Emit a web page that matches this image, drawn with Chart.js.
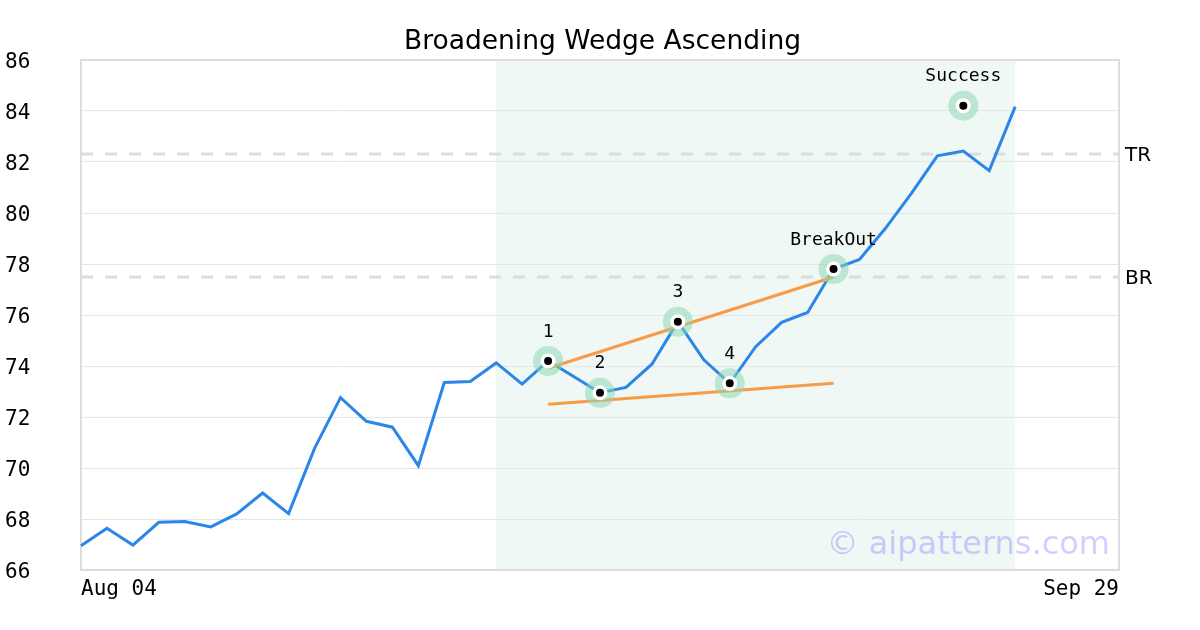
<!DOCTYPE html>
<html>
<head>
<meta charset="utf-8">
<script src="https://cdn.jsdelivr.net/npm/chart.js@4.4.1/dist/chart.umd.min.js"></script>
<style>
    html, body { margin: 0; padding: 0; background: #ffffff; }
    #wrap { width: 1200px; height: 630px; }
</style>
</head>
<body>
<div id="wrap"><canvas id="pattern-chart"></canvas></div>
<script>
const dates = [
    'Aug 04', 'Aug 05', 'Aug 06', 'Aug 07', 'Aug 08',
    'Aug 11', 'Aug 12', 'Aug 13', 'Aug 14', 'Aug 15',
    'Aug 18', 'Aug 19', 'Aug 20', 'Aug 21', 'Aug 22',
    'Aug 25', 'Aug 26', 'Aug 27', 'Aug 28', 'Aug 29',
    'Sep 01', 'Sep 02', 'Sep 03', 'Sep 04', 'Sep 05',
    'Sep 08', 'Sep 09', 'Sep 10', 'Sep 11', 'Sep 12',
    'Sep 15', 'Sep 16', 'Sep 17', 'Sep 18', 'Sep 19',
    'Sep 22', 'Sep 23', 'Sep 24', 'Sep 25', 'Sep 26',
    'Sep 29',
];

const prices = [
    66.95, 67.64, 66.98, 67.87, 67.90, 67.69, 68.20, 69.02, 68.21, 70.77,
    72.76, 71.83, 71.60, 70.09, 73.35, 73.39, 74.12, 73.29, 74.20, 73.58,
    72.95, 73.16, 74.07, 75.74, 74.24, 73.32, 74.76, 75.71, 76.10, 77.80,
    78.18, 79.40, 80.77, 82.24, 82.43, 81.66, 84.17,
];

// pattern points
const markerNames = ['1', '2', '3', '4', 'BreakOut', 'Success'];
const markerDates = ['Aug 28', 'Sep 01', 'Sep 04', 'Sep 08', 'Sep 12', 'Sep 19'];
const markerValues = [74.20, 72.95, 75.74, 73.32, 77.80, 84.21];

// wedge lines
const upperLineDates = ['Aug 28', 'Sep 12'];
const upperLineValues = [73.91, 77.49];
const lowerLineDates = ['Aug 28', 'Sep 12'];
const lowerLineValues = [72.50, 73.32];

// resistance levels
const levelNames = ['TR', 'BR'];
const levelValues = [82.31, 77.49];

const patternStart = 'Aug 26';
const patternEnd = 'Sep 23';

const yTicks = [66, 68, 70, 72, 74, 76, 78, 80, 82, 84, 86];

const toPoints = (xs, ys) => xs.map((x, i) => ({ x, y: ys[i] }));

const decorations = {
    id: 'decorations',
    beforeDraw(chart) {
        const { ctx, chartArea, scales } = chart;
        const x0 = scales.x.getPixelForValue(dates.indexOf(patternStart));
        const x1 = scales.x.getPixelForValue(dates.indexOf(patternEnd));
        ctx.save();
        ctx.fillStyle = '#eff8f4';
        ctx.fillRect(x0, chartArea.top, x1 - x0, chartArea.bottom - chartArea.top);
        ctx.restore();
    },
    beforeDatasetsDraw(chart) {
        const { ctx, chartArea, scales } = chart;
        ctx.save();
        ctx.strokeStyle = '#dddddd';
        ctx.lineWidth = 3;
        ctx.setLineDash([12, 12]);
        levelValues.forEach((v, i) => {
            const y = scales.y.getPixelForValue(v);
            ctx.beginPath();
            ctx.moveTo(chartArea.left, y);
            ctx.lineTo(chartArea.right, y);
            ctx.stroke();
            ctx.fillStyle = '#000000';
            ctx.font = '20px "DejaVu Sans"';
            ctx.textAlign = 'left';
            ctx.textBaseline = 'middle';
            ctx.fillText(levelNames[i], chartArea.right + 6, y + 2);
        });
        ctx.setLineDash([]);
        ctx.lineWidth = 2;
        ctx.strokeStyle = '#dddddd';
        ctx.strokeRect(chartArea.left, chartArea.top, chartArea.right - chartArea.left, chartArea.bottom - chartArea.top);

        ctx.fillStyle = 'rgba(100, 100, 255, 0.3)';
        ctx.font = '32px "DejaVu Sans"';
        ctx.textAlign = 'right';
        ctx.textBaseline = 'middle';
        ctx.fillText('\u00a9 aipatterns.com', chartArea.right - 9, chartArea.bottom - 24);
        ctx.restore();
    },
    afterDatasetsDraw(chart) {
        const { ctx } = chart;
        const meta = chart.getDatasetMeta(0);
        ctx.save();
        ctx.fillStyle = '#000000';
        ctx.font = '18px "DejaVu Sans Mono"';
        ctx.textAlign = 'center';
        ctx.textBaseline = 'middle';
        meta.data.forEach((pt, i) => {
            ctx.fillText(markerNames[i], pt.x, pt.y - 29);
        });
        ctx.restore();
    },
};

new Chart(document.getElementById('pattern-chart'), {
    type: 'line',
    data: {
        labels: dates,
        datasets: [
            {
                label: 'Markers',
                data: toPoints(markerDates, markerValues),
                showLine: false,
                pointRadius: 5.75,
                pointBackgroundColor: '#000000',
                pointBorderColor: '#ffffff',
                pointBorderWidth: 3.5,
            },
            {
                label: 'Halo',
                data: toPoints(markerDates, markerValues),
                showLine: false,
                pointRadius: 15,
                pointBorderWidth: 0,
                pointBackgroundColor: 'rgba(140, 215, 178, 0.52)',
            },
            {
                label: 'Upper',
                data: toPoints(upperLineDates, upperLineValues),
                borderColor: '#f99b45',
                borderWidth: 3,
                pointRadius: 0,
            },
            {
                label: 'Lower',
                data: toPoints(lowerLineDates, lowerLineValues),
                borderColor: '#f99b45',
                borderWidth: 3,
                pointRadius: 0,
            },
            {
                label: 'Price',
                data: prices,
                borderColor: '#2b86e8',
                borderWidth: 3,
                pointRadius: 0,
                tension: 0,
            },
        ],
    },
    options: {
        responsive: true,
        maintainAspectRatio: false,
        animation: false,
        layout: { padding: { left: 5, right: 0, top: 0, bottom: 0 } },
        plugins: {
            legend: { display: false },
            tooltip: { enabled: false },
            title: {
                display: true,
                text: 'Broadening Wedge Ascending',
                color: '#000000',
                font: { family: 'DejaVu Sans', size: 26.5, weight: 'normal' },
                padding: { top: 26, bottom: 2.2 },
            },
        },
        scales: {
            x: {
                border: { display: false },
                grid: { display: false, drawTicks: false },
                afterFit: (scale) => { scale.height = 60; },
                ticks: {
                    autoSkip: false,
                    maxRotation: 0,
                    align: 'inner',
                    padding: 7,
                    color: '#000000',
                    font: { family: 'DejaVu Sans Mono', size: 21 },
                    callback: (value, index) => (index === 0 || index === dates.length - 1 ? dates[index] : ''),
                },
            },
            y: {
                min: 66,
                max: 86,
                border: { display: false },
                grid: { color: '#e5e5e5', lineWidth: 1, drawTicks: false },
                afterBuildTicks: (scale) => {
                    scale.ticks = yTicks.map((value) => ({ value }));
                },
                afterFit: (scale) => { scale.width = 76; },
                ticks: {
                    padding: 3,
                    crossAlign: 'far',
                    labelOffset: 3,
                    color: '#000000',
                    font: { family: 'DejaVu Sans Mono', size: 21 },
                },
            },
            yRight: {
                position: 'right',
                min: 66,
                max: 86,
                border: { display: false },
                grid: { display: false, drawTicks: false },
                ticks: { display: false },
                afterFit: (scale) => { scale.width = 81; },
            },
        },
    },
    plugins: [decorations],
});
</script>
</body>
</html>
